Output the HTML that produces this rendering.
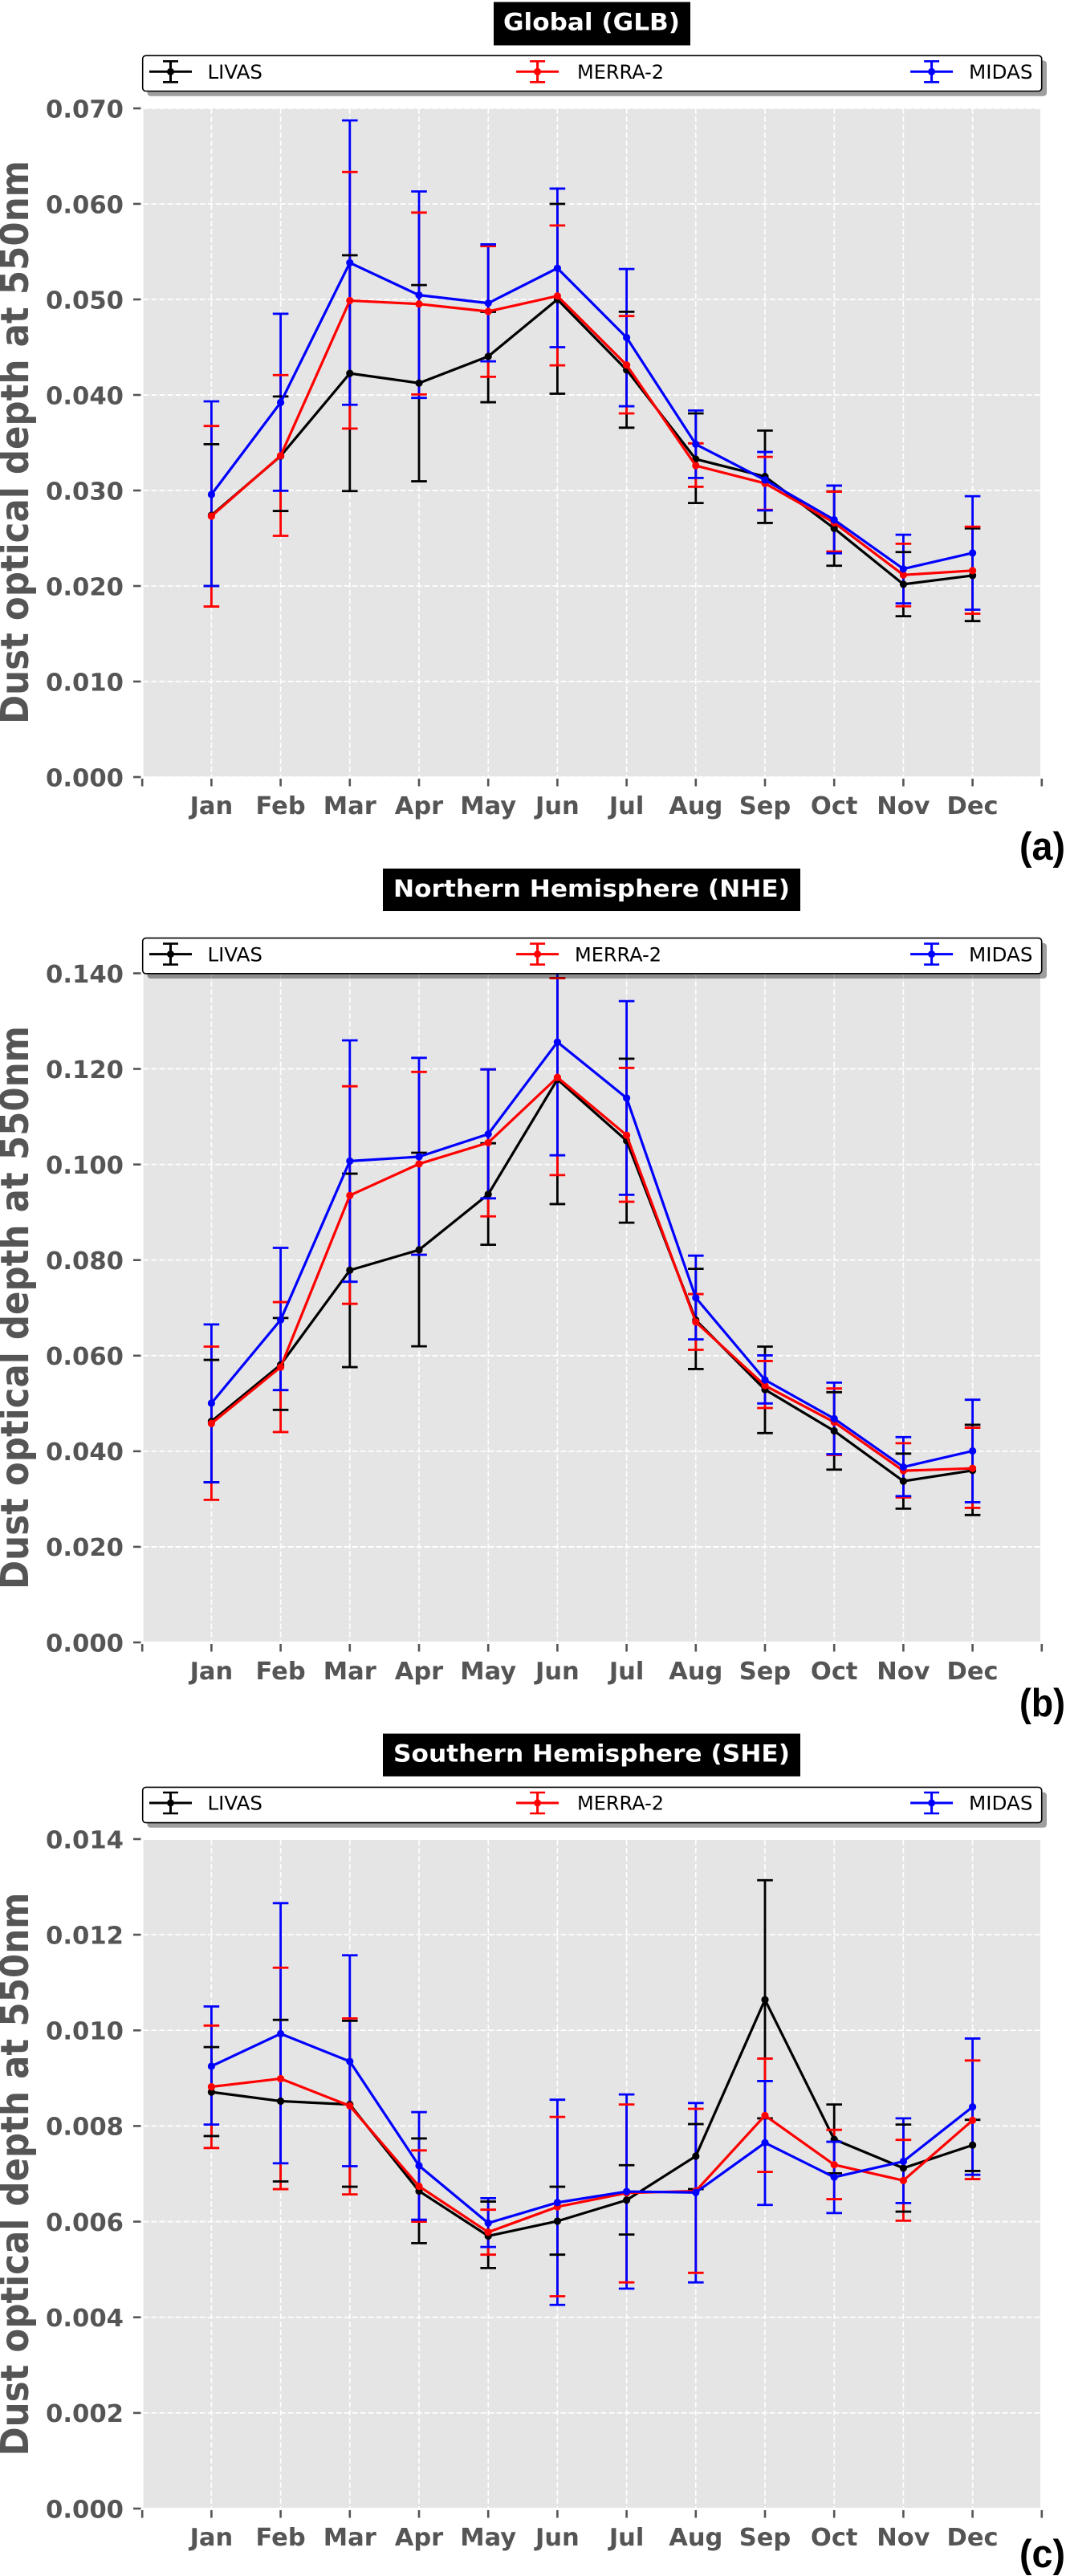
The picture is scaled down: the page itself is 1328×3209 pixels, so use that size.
<!DOCTYPE html>
<html lang="en">
<head>
<meta charset="utf-8">
<title>Dust optical depth at 550nm</title>
<style>
html,body{margin:0;padding:0;background:#fff;}
svg{display:block;}
text{font-family:"DejaVu Sans","Liberation Sans",sans-serif;}
</style>
</head>
<body>
<svg id="chart" xmlns="http://www.w3.org/2000/svg" width="1328" height="3209" viewBox="0 0 1328 3209"></svg>
<script>
const months = ['Jan','Feb','Mar','Apr','May','Jun','Jul','Aug','Sep','Oct','Nov','Dec'];
const seriesNames = ['LIVAS','MERRA-2','MIDAS'];
const seriesColors = ['#000000','#ff0000','#0000ff'];

const glbTickLabels = ['0.000','0.010','0.020','0.030','0.040','0.050','0.060','0.070'];
const nheTickLabels = ['0.000','0.020','0.040','0.060','0.080','0.100','0.120','0.140'];
const sheTickLabels = ['0.000','0.002','0.004','0.006','0.008','0.010','0.012','0.014'];

const glbLivasMean = [0.0274,0.0336,0.04226,0.04124,0.04403,0.0500,0.04262,0.03328,0.03146,0.02603,0.02018,0.0211];
const glbLivasLow  = [0.0200,0.02785,0.02994,0.03096,0.03924,0.04013,0.03657,0.02869,0.0266,0.02212,0.01684,0.01633];
const glbLivasHigh = [0.03484,0.03984,0.05462,0.0515,0.0487,0.0600,0.04871,0.03807,0.03627,0.0299,0.02355,0.02603];
const glbMerraMean = [0.02731,0.03364,0.04988,0.04952,0.04874,0.05036,0.04313,0.0326,0.03075,0.02663,0.02116,0.02161];
const glbMerraLow  = [0.01785,0.02525,0.03648,0.04005,0.0419,0.0431,0.03807,0.03039,0.02797,0.02361,0.01788,0.0171];
const glbMerraHigh = [0.03675,0.04208,0.06334,0.05909,0.05558,0.05774,0.04826,0.03493,0.03352,0.02988,0.02442,0.02621];
const glbMidasMean = [0.02958,0.03921,0.05384,0.05045,0.04961,0.05327,0.04601,0.03484,0.0311,0.02693,0.02179,0.02346];
const glbMidasLow  = [0.0200,0.02997,0.03897,0.03969,0.04352,0.0450,0.03882,0.03131,0.02791,0.02343,0.01818,0.01752];
const glbMidasHigh = [0.03933,0.0485,0.06874,0.0613,0.05576,0.0616,0.05318,0.03837,0.03403,0.03051,0.02537,0.0294];

const nheLivasMean = [0.04626,0.0581,0.07787,0.08213,0.09376,0.11781,0.10498,0.06744,0.0529,0.04425,0.03374,0.03598];
const nheLivasLow  = [0.03352,0.04866,0.0576,0.06196,0.08321,0.09172,0.08783,0.0572,0.0438,0.03615,0.02799,0.02665];
const nheLivasHigh = [0.05911,0.06788,0.09808,0.10246,0.10444,0.1390,0.12213,0.07817,0.0619,0.05235,0.0395,0.04553];
const nheMerraMean = [0.04581,0.0576,0.09352,0.10012,0.10456,0.11823,0.10612,0.06704,0.05374,0.04609,0.03592,0.03642];
const nheMerraLow  = [0.02983,0.04402,0.07085,0.08111,0.08915,0.09778,0.0922,0.06123,0.04905,0.03922,0.03034,0.02816];
const nheMerraHigh = [0.0619,0.07121,0.11637,0.11937,0.1199,0.1390,0.12021,0.07289,0.05888,0.05313,0.04168,0.04492];
const nheMidasMean = [0.05006,0.06749,0.10072,0.10162,0.10636,0.12561,0.11391,0.07212,0.05492,0.04682,0.0367,0.04006];
const nheMidasLow  = [0.03352,0.05279,0.07547,0.08111,0.09292,0.10192,0.09366,0.06341,0.05,0.03939,0.03061,0.02933];
const nheMidasHigh = [0.06654,0.08255,0.12597,0.12231,0.1199,0.1493,0.13418,0.08093,0.06006,0.05436,0.04296,0.05078];

const sheLivasMean = [0.00871,0.00852,0.00845,0.00664,0.0057,0.00601,0.00645,0.00737,0.01064,0.00772,0.00712,0.0076];
const sheLivasLow  = [0.00779,0.00684,0.00673,0.00555,0.00503,0.00531,0.00573,0.00668,0.00816,0.00701,0.00621,0.00706];
const sheLivasHigh = [0.00965,0.01022,0.0102,0.00774,0.00642,0.00673,0.00718,0.00804,0.01314,0.00845,0.00803,0.00813];
const sheMerraMean = [0.00882,0.00899,0.00842,0.00674,0.00578,0.00631,0.0066,0.00664,0.00822,0.00719,0.00686,0.00812];
const sheMerraLow  = [0.00754,0.00668,0.00657,0.006,0.00531,0.00444,0.00473,0.00493,0.00704,0.00647,0.00602,0.00689];
const sheMerraHigh = [0.0101,0.01131,0.01025,0.00749,0.00625,0.00819,0.00845,0.00836,0.00941,0.00792,0.00771,0.00937];
const sheMidasMean = [0.00925,0.00993,0.00935,0.00717,0.00597,0.0064,0.00663,0.00661,0.00765,0.00693,0.00726,0.0084];
const sheMidasLow  = [0.00803,0.00722,0.00716,0.00604,0.00547,0.00426,0.0046,0.00473,0.00635,0.00618,0.00639,0.00698];
const sheMidasHigh = [0.0105,0.01266,0.01157,0.00829,0.00649,0.00855,0.00866,0.00848,0.00894,0.00767,0.00816,0.00983];

const panelTitles = ['Global (GLB)','Northern Hemisphere (NHE)','Southern Hemisphere (SHE)'];
const panelTags = ['(a)','(b)','(c)'];
const yAxisTitle = 'Dust optical depth at 550nm';

const panelData = [
  {key:'glb', ticks:glbTickLabels, means:[glbLivasMean,glbMerraMean,glbMidasMean], lows:[glbLivasLow,glbMerraLow,glbMidasLow], highs:[glbLivasHigh,glbMerraHigh,glbMidasHigh]},
  {key:'nhe', ticks:nheTickLabels, means:[nheLivasMean,nheMerraMean,nheMidasMean], lows:[nheLivasLow,nheMerraLow,nheMidasLow], highs:[nheLivasHigh,nheMerraHigh,nheMidasHigh]},
  {key:'she', ticks:sheTickLabels, means:[sheLivasMean,sheMerraMean,sheMidasMean], lows:[sheLivasLow,sheMerraLow,sheMidasLow], highs:[sheLivasHigh,sheMerraHigh,sheMidasHigh]}
];

// layout only
const panelLayout = [
  {yZero:968,  yMax:135,    yLo:0, yHi:0.07,  plotTop:135,    plotBottom:967.5,
   titleBox:[615,2.5,245,54], titleText:[627,37.5,220], legendTop:69.3, legendMid:89.3, merraTextX:719, tagBase:1071, labelMid:551},
  {yZero:2046, yMax:1212.5, yLo:0, yHi:0.14,  plotTop:1212.5, plotBottom:2045,
   titleBox:[477,1082,520,53], titleText:[490,1117,494], legendTop:1168.6, legendMid:1188.6, merraTextX:716, tagBase:2138, labelMid:1629},
  {yZero:3125, yMax:2291,   yLo:0, yHi:0.014, plotTop:2292,   plotBottom:3124,
   titleBox:[477,2159.6,520,53.3], titleText:[490,2194.6,494], legendTop:2226.4, legendMid:2246, merraTextX:719, tagBase:3198, labelMid:2708.5}
];

const NS = 'http://www.w3.org/2000/svg';
const svg = document.getElementById('chart');
const PLOT_LEFT = 178.6, PLOT_RIGHT = 1296, X_FIRST = 263.4, X_STEP = 86.2;
const TICK_COLOR = '#555555';

function xScale(i){ return X_FIRST + X_STEP * i; }
function yScale(layout, v){ return layout.yZero + (v - layout.yLo) / (layout.yHi - layout.yLo) * (layout.yMax - layout.yZero); }

function make(tag, parent, attrs){
  const el = document.createElementNS(NS, tag);
  for (const k in attrs) el.setAttribute(k, attrs[k]);
  parent.appendChild(el);
  return el;
}

const defs = make('defs', svg, {});

function drawLegendEntry(parent, layout, idx, cx, textX, textLen){
  const color = seriesColors[idx];
  const ly = layout.legendMid;
  const g = make('g', parent, {});
  
  
  make('line', g, {x1:cx-26.5, x2:cx+26.5, y1:ly, y2:ly, stroke:color, 'stroke-width':3});
  make('line', g, {x1:cx, x2:cx, y1:ly-13, y2:ly+13, stroke:color, 'stroke-width':3});
  make('line', g, {x1:cx-9.5, x2:cx+9.5, y1:ly-13, y2:ly-13, stroke:color, 'stroke-width':2.6});
  make('line', g, {x1:cx-9.5, x2:cx+9.5, y1:ly+13, y2:ly+13, stroke:color, 'stroke-width':2.6});
  make('circle', g, {cx:cx, cy:ly, r:4.5, fill:color});
  const t = make('text', g, {x:textX, y:ly+8.7, 'font-size':24, fill:'#000', textLength:textLen, lengthAdjust:'spacingAndGlyphs'});
  t.textContent = seriesNames[idx];
}

panelData.forEach(function(panel, p){
  const layout = panelLayout[p];
  const root = make('g', svg, {});
  
  

  const clip = make('clipPath', defs, {id:'clip-' + panel.key});
  make('rect', clip, {x:PLOT_LEFT, y:layout.plotTop, width:PLOT_RIGHT-PLOT_LEFT, height:layout.plotBottom-layout.plotTop});

  // plot background
  const bg = make('rect', root, {x:PLOT_LEFT, y:layout.plotTop, width:PLOT_RIGHT-PLOT_LEFT, height:layout.plotBottom-layout.plotTop, fill:'#e5e5e5'});
  
  

  // grid
  const grid = make('g', root, {stroke:'#ffffff', 'clip-path':'url(#clip-' + panel.key + ')'});
  
  
  panel.ticks.forEach(function(label){
    const y = yScale(layout, parseFloat(label));
    make('line', grid, {x1:PLOT_LEFT, x2:PLOT_RIGHT, y1:y, y2:y, 'stroke-width':1.8, 'stroke-dasharray':'7 3'});
  });
  months.forEach(function(m, i){
    const x = xScale(i);
    make('line', grid, {x1:x, x2:x, y1:layout.plotTop, y2:layout.plotBottom, 'stroke-width':1.6, 'stroke-dasharray':'7 3'});
  });

  // y axis
  const yAxis = make('g', root, {});
  
  
  panel.ticks.forEach(function(label){
    const y = yScale(layout, parseFloat(label));
    const tick = make('line', yAxis, {x1:166, x2:175.5, y1:y, y2:y, stroke:TICK_COLOR, 'stroke-width':2.6});
    
    
    const t = make('text', yAxis, {x:154, y:y+11.3, 'text-anchor':'end', 'font-size':30, 'font-weight':'bold', fill:TICK_COLOR, textLength:97, lengthAdjust:'spacingAndGlyphs'});
    
    
    t.textContent = label;
  });
  const yt = make('text', yAxis, {transform:'translate(35,' + layout.labelMid + ') rotate(-90)', 'text-anchor':'middle', 'font-size':48, 'font-weight':'bold', fill:TICK_COLOR, textLength:702, lengthAdjust:'spacingAndGlyphs'});
  
  
  yt.textContent = yAxisTitle;

  // x axis
  const xAxis = make('g', root, {});
  
  
  for (let i = -1; i <= months.length; i++) {
    const x = xScale(i);
    const tick = make('line', xAxis, {x1:x, x2:x, y1:layout.yZero+2, y2:layout.yZero+11.5, stroke:TICK_COLOR, 'stroke-width':2.6});
    
    
  }
  months.forEach(function(m, i){
    const t = make('text', xAxis, {x:xScale(i), y:layout.yZero+45.8, 'text-anchor':'middle', 'font-size':30.5, 'font-weight':'bold', fill:TICK_COLOR});
    
    
    t.textContent = m;
  });

  // series: all vertical error bars first, then line / caps per series
  const marks = make('g', root, {'clip-path':'url(#clip-' + panel.key + ')'});
  
  
  seriesNames.forEach(function(name, s){
    const color = seriesColors[s];
    months.forEach(function(m, i){
      const x = xScale(i);
      const bar = make('line', marks, {x1:x, x2:x, y1:yScale(layout, panel.lows[s][i]), y2:yScale(layout, panel.highs[s][i]), stroke:color, 'stroke-width':2.8});
      
      
    });
  });
  seriesNames.forEach(function(name, s){
    const color = seriesColors[s];
    const pts = months.map(function(m, i){ return xScale(i).toFixed(2) + ',' + yScale(layout, panel.means[s][i]).toFixed(2); }).join(' ');
    const line = make('polyline', marks, {points:pts, fill:'none', stroke:color, 'stroke-width':3.2, 'stroke-linejoin':'round'});
    
    
    months.forEach(function(m, i){
      const x = xScale(i);
      const dot = make('circle', marks, {cx:x, cy:yScale(layout, panel.means[s][i]), r:4.6, fill:color});
      
      
      [panel.lows[s][i], panel.highs[s][i]].forEach(function(v){
        const y = yScale(layout, v);
        const cap = make('line', marks, {x1:x-9.8, x2:x+9.8, y1:y, y2:y, stroke:color, 'stroke-width':2.8});
        
        
      });
    });
  });

  // title
  const titleG = make('g', root, {});
  
  
  make('rect', titleG, {x:layout.titleBox[0], y:layout.titleBox[1], width:layout.titleBox[2], height:layout.titleBox[3], fill:'#000'});
  const tt = make('text', titleG, {x:layout.titleText[0], y:layout.titleText[1], 'font-size':29.5, 'font-weight':'bold', fill:'#fff', textLength:layout.titleText[2], lengthAdjust:'spacingAndGlyphs'});
  tt.textContent = panelTitles[p];

  // legend
  const legend = make('g', root, {});
  
  
  make('rect', legend, {x:183.5, y:layout.legendTop+6.2, width:1120.5, height:44.2, rx:4, fill:'#000', 'fill-opacity':0.38});
  make('rect', legend, {x:177.7, y:layout.legendTop, width:1120, height:44.2, rx:4, fill:'#fff', stroke:'#000', 'stroke-width':1.6});
  drawLegendEntry(legend, layout, 0, 212.5, 258.5, 68.5);
  drawLegendEntry(legend, layout, 1, 669.6, layout.merraTextX, 108);
  drawLegendEntry(legend, layout, 2, 1160.6, 1207, 79.5);

  // panel tag
  const tag = make('text', root, {x:1270, y:layout.tagBase, 'font-size':49, 'font-weight':'bold', fill:'#000', textLength:57, lengthAdjust:'spacingAndGlyphs', style:'font-family:"Liberation Sans",sans-serif'});
  
  
  tag.textContent = panelTags[p];
});
</script>
</body>
</html>
